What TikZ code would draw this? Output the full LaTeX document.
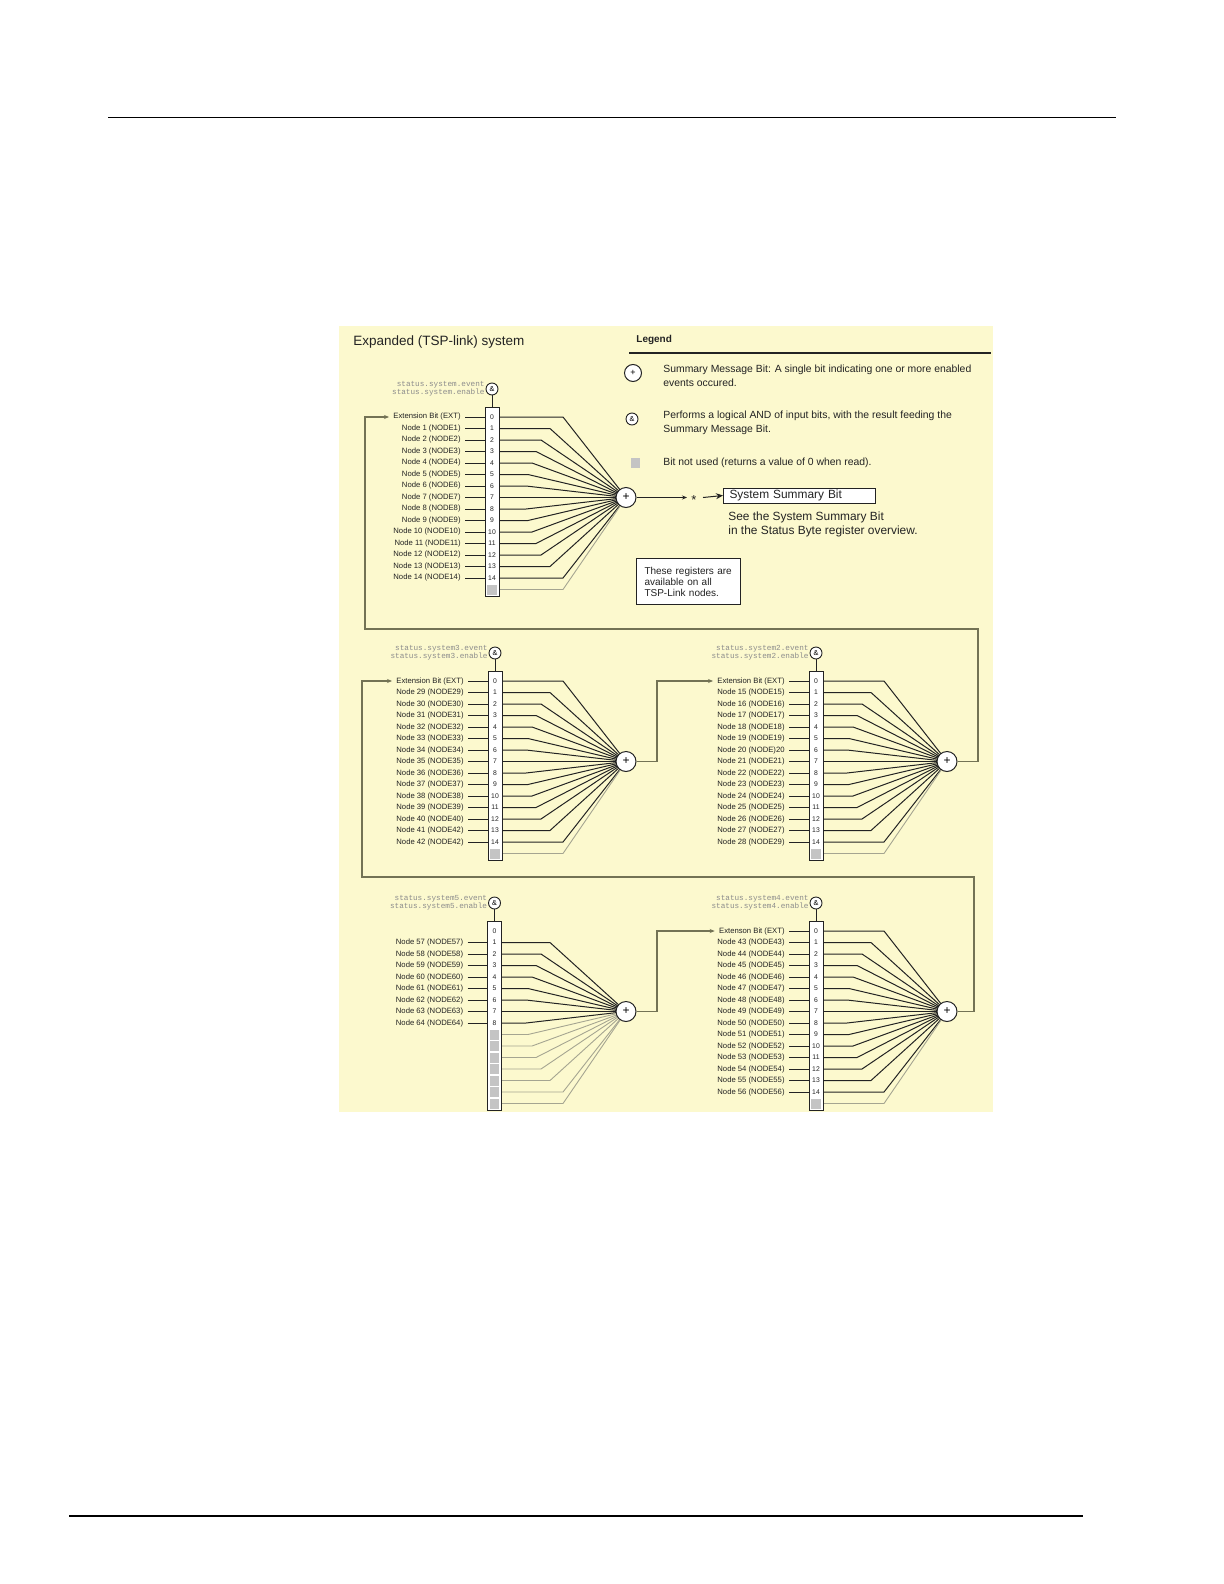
\documentclass[tikz,border=0pt]{standalone}
\usepackage{fontspec}
\setmainfont{Liberation Sans}
\newfontfamily\monof{Liberation Mono}
\usetikzlibrary{arrows.meta,calc}
\pgfdeclarelayer{bg}
\pgfsetlayers{bg,main}
\definecolor{panel}{RGB}{252,249,206}
\definecolor{ink}{RGB}{35,35,35}
\definecolor{connc}{RGB}{115,115,85}
\definecolor{offc}{RGB}{165,165,145}
\definecolor{statc}{RGB}{140,140,140}
\definecolor{sqc}{RGB}{196,196,196}
\tikzset{
 regbox/.style={draw=ink, fill=white, line width=0.5pt, minimum width=7pt, inner sep=0pt},
 cell/.style={inner sep=0pt, minimum width=7pt, minimum height=5.75pt, font=\fontsize{3.4pt}{4pt}\selectfont, text=ink},
 unused/.style={fill=sqc, inner sep=0pt, minimum width=4.8pt, minimum height=5pt},
 andnode/.style={circle, draw=ink, fill=white, line width=0.45pt, minimum size=6pt, inner sep=0pt, font=\fontsize{3.6pt}{4pt}\selectfont},
 sumnode/.style={circle, draw=ink, fill=white, line width=0.5pt, minimum size=10pt, inner sep=0pt, font=\fontsize{6pt}{6pt}\selectfont},
 stat/.style={align=right, inner sep=0pt, text=statc, font=\monof\fontsize{3.85pt}{4pt}\selectfont},
 lab/.style={anchor=east, inner xsep=2pt, inner ysep=0pt, text=ink, font=\fontsize{3.85pt}{4pt}\selectfont},
 regline/.style={draw=ink, line width=0.5pt},
 fan/.style={draw=ink, line width=0.5pt},
 fanoff/.style={draw=offc, line width=0.45pt},
 conn/.style={draw=connc, line width=0.55pt},
 smalltip/.style={-{Stealth[length=2.5pt,width=2pt]}},
 bigtip/.style={-{Stealth[length=3.5pt,width=3pt]}},
 legtext/.style={anchor=west, align=left, inner sep=0pt, text=ink, font=\fontsize{5.2pt}{7.2pt}\selectfont},
}
% #1 prefix, #2 box centre x, #3 bit-0 y, #4 sum x, #5 register name, #6 labels, #7 last used bit, #8 first labelled bit
\newcommand\regblock[8]{%
 \node[regbox, minimum height=94.5pt] (#1-box) at (#2,#3+85) {};
 \node[andnode] (#1-a) at (#2,#3-28) {\&};
 \draw[regline] (#1-a.south) -- (#1-box.north);
 \node[stat, anchor=east] (#1-s) at ([xshift=-0.3pt]#1-a.west) {status.#5.event\\status.#5.enable};
 \node[sumnode] (#1-p) at (#4,#3+80.5) {+};
 \foreach \k in {0,...,15} {
   \pgfmathtruncatemacro\myd{abs(\k-7)}
   \pgfmathsetmacro\myoff{{0,100,98,94,90,85,76,63,63}[\myd]}
   \ifnum\k>#7\relax
     \node[unused] (#1-b\k) at (#2,#3+\k*11.5) {};
     \begin{pgfonlayer}{bg}
     \draw[fanoff] ([xshift=3.5pt]#1-b\k.center) -- (#4-\myoff,#3+\k*11.5) -- (#1-p.center);
     \end{pgfonlayer}
   \else
     \node[cell] (#1-b\k) at (#2,#3+\k*11.5) {\k};
     \ifnum\k<#8\relax\else
       \begin{pgfonlayer}{bg}
       \draw[fan] ([xshift=3.5pt]#1-b\k.center) -- (#4-\myoff,#3+\k*11.5) -- (#1-p.center);
       \end{pgfonlayer}
     \fi
   \fi
 }
 \foreach \lab [count=\k from #8] in {#6} {
   \node[lab] (#1-l\k) at (#2-27,#3+\k*11.5) {\lab};
   \draw[regline] (#1-l\k.east) -- ([xshift=-3.5pt]#1-b\k.center);
 }
}
\begin{document}
\begin{tikzpicture}[x=0.5pt,y=-0.5pt]
\useasboundingbox (0,0) rectangle (1224,1584);
% page rules
\draw[line width=0.5pt] (108,118) -- (1116,118);
\draw[line width=1.2pt] (69,1516) -- (1083,1516);
% panel
\begin{pgfonlayer}{bg}
\fill[panel] (339,326) rectangle (993,1112);
\end{pgfonlayer}
% title
\node[anchor=west, inner sep=0pt, text=ink, font=\fontsize{6.75pt}{8pt}\selectfont] (title) at (353,342) {Expanded (TSP-link) system};
% legend
\node[anchor=west, inner sep=0pt, text=ink, font=\bfseries\fontsize{5pt}{6pt}\selectfont] (legend) at (636,340) {Legend};
\draw[draw=ink, line width=1pt] (629,353) -- (991,353);
\node[circle, draw=ink, fill=white, line width=0.5pt, minimum size=8.5pt, inner sep=0pt, font=\fontsize{4.5pt}{5pt}\selectfont] (legsum) at (633,373) {+};
\node[legtext] (legsumt) at (663,375.5) {Summary Message Bit: A single bit indicating one or more enabled\\events occured.};
\node[andnode, minimum size=6pt] (legand) at (632,419) {\&};
\node[legtext] (legandt) at (663,423) {Performs a logical AND of input bits, with the result feeding the\\Summary Message Bit.};
\node[unused] (legsq) at (635.5,463) {};
\node[legtext] (legsqt) at (663,463) {Bit not used (returns a value of 0 when read).};
% blocks
\regblock{T}{492}{417}{626}{system}{Extension Bit (EXT),Node 1 (NODE1),Node 2 (NODE2),Node 3 (NODE3),Node 4 (NODE4),Node 5 (NODE5),Node 6 (NODE6),Node 7 (NODE7),Node 8 (NODE8),Node 9 (NODE9),Node 10 (NODE10),Node 11 (NODE11),Node 12 (NODE12),Node 13 (NODE13),Node 14 (NODE14)}{14}{0}
\regblock{ML}{495}{681}{626}{system3}{Extension Bit (EXT),Node 29 (NODE29),Node 30 (NODE30),Node 31 (NODE31),Node 32 (NODE32),Node 33 (NODE33),Node 34 (NODE34),Node 35 (NODE35),Node 36 (NODE36),Node 37 (NODE37),Node 38 (NODE38),Node 39 (NODE39),Node 40 (NODE40),Node 41 (NODE42),Node 42 (NODE42)}{14}{0}
\regblock{MR}{816}{681}{947}{system2}{Extension Bit (EXT),Node 15 (NODE15),Node 16 (NODE16),Node 17 (NODE17),Node 18 (NODE18),Node 19 (NODE19),Node 20 (NODE)20,Node 21 (NODE21),Node 22 (NODE22),Node 23 (NODE23),Node 24 (NODE24),Node 25 (NODE25),Node 26 (NODE26),Node 27 (NODE27),Node 28 (NODE29)}{14}{0}
\regblock{BL}{494.5}{931}{626}{system5}{Node 57 (NODE57),Node 58 (NODE58),Node 59 (NODE59),Node 60 (NODE60),Node 61 (NODE61),Node 62 (NODE62),Node 63 (NODE63),Node 64 (NODE64)}{8}{1}
\regblock{BR}{816}{931}{947}{system4}{Extenson Bit (EXT),Node 43 (NODE43),Node 44 (NODE44),Node 45 (NODE45),Node 46 (NODE46),Node 47 (NODE47),Node 48 (NODE48),Node 49 (NODE49),Node 50 (NODE50),Node 51 (NODE51),Node 52 (NODE52),Node 53 (NODE53),Node 54 (NODE54),Node 55 (NODE55),Node 56 (NODE56)}{14}{0}
% system summary output
\coordinate (s1) at (687,497.5);
\node[inner sep=0pt, text=ink, font=\fontsize{6.5pt}{6pt}\selectfont] (star) at (694,500) {*};
\coordinate (s2) at (703,497.5);
\node[draw=ink, fill=white, line width=0.5pt, anchor=west, text width=70pt, inner xsep=3pt, inner ysep=0pt, minimum height=7.5pt, text=ink, font=\fontsize{5.95pt}{6pt}\selectfont] (ssb) at (723,495.5) {System Summary Bit};
\draw[fan, smalltip] (T-p.east) -- (s1);
\draw[regline, bigtip] (s2) -- (ssb.west);
\node[anchor=west, align=left, inner sep=0pt, text=ink, font=\fontsize{5.95pt}{7pt}\selectfont] (see) at (728,524) {See the System Summary Bit\\in the Status Byte register overview.};
\node[draw=ink, fill=white, line width=0.5pt, anchor=north west, text width=44pt, inner xsep=4pt, inner ysep=0pt, minimum height=23pt, align=left, text=ink, font=\fontsize{5pt}{5.5pt}\selectfont] (note) at (636,558) {These registers are\\available on all\\TSP-Link nodes.};
% connectors between blocks
\coordinate (j1) at (978,629);
\coordinate (j2) at (365,417);
\draw[conn, smalltip] (MR-p.east) -| (j1) -| (j2) -- (T-l0.west);
\coordinate (j3) at (657,681);
\draw[conn, smalltip] (ML-p.east) -| (j3) -- (MR-l0.west);
\coordinate (j4) at (974,877);
\coordinate (j5) at (362,681);
\draw[conn, smalltip] (BR-p.east) -| (j4) -| (j5) -- (ML-l0.west);
\coordinate (j6) at (657,931);
\draw[conn, smalltip] (BL-p.east) -| (j6) -- (BR-l0.west);
\end{tikzpicture}
\end{document}
